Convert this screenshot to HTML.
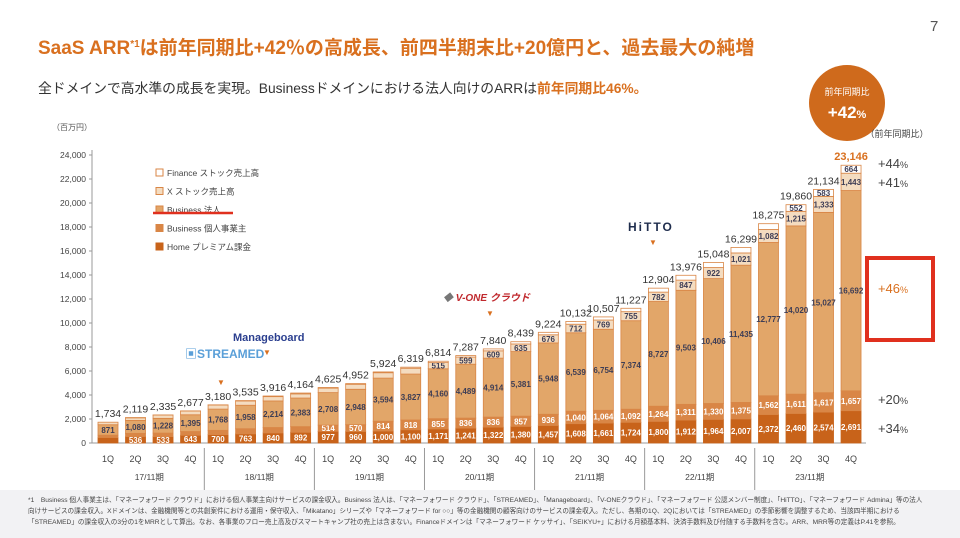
<!DOCTYPE html>
<html><head><meta charset="utf-8">
<style>
body{margin:0;width:960px;height:538px;overflow:hidden;background:#fff;font-family:"Liberation Sans","Noto Sans CJK JP",sans-serif;}
svg{display:block}
</style></head>
<body>
<svg id="c" width="960" height="538" viewBox="0 0 960 538" font-family="Liberation Sans, Noto Sans CJK JP, sans-serif">
<text x="930" y="31" font-size="15" fill="#555">7</text>
<text x="38" y="54" font-size="19" font-weight="bold" fill="#d9701f">SaaS ARR<tspan font-size="10" dy="-7">*1</tspan><tspan dy="7">は前年同期比+42％の高成長、前四半期末比+20億円と、過去最大の純増</tspan></text>
<text x="38" y="93" font-size="13.8" fill="#333">全ドメインで高水準の成長を実現。Businessドメインにおける法人向けのARRは<tspan font-weight="bold" fill="#d9701f">前年同期比46%。</tspan></text>
<text x="52" y="130" font-size="8" fill="#555">（百万円）</text>
<circle cx="847" cy="103" r="38" fill="#cf6a1c"/>
<text x="847" y="95" font-size="9" fill="#fff" text-anchor="middle">前年同期比</text>
<text x="847" y="118" font-size="17" font-weight="bold" fill="#fff" text-anchor="middle">+42<tspan font-size="11">%</tspan></text>
<text x="897" y="137" font-size="9" fill="#444" text-anchor="middle">（前年同期比）</text>
<text x="893" y="168" font-size="13" fill="#444" text-anchor="middle">+44<tspan font-size="9">%</tspan></text>
<text x="893" y="187" font-size="13" fill="#444" text-anchor="middle">+41<tspan font-size="9">%</tspan></text>
<rect x="867" y="258" width="66" height="82" fill="none" stroke="#e0301e" stroke-width="4"/>
<text x="893" y="293" font-size="13" fill="#d9701f" text-anchor="middle">+46<tspan font-size="9">%</tspan></text>
<text x="893" y="404" font-size="13" fill="#444" text-anchor="middle">+20<tspan font-size="9">%</tspan></text>
<text x="893" y="433" font-size="13" fill="#444" text-anchor="middle">+34<tspan font-size="9">%</tspan></text>
<g id="axis"></g>
<g id="bars"></g>
<g id="legend"></g>
<text x="185" y="358" font-size="12" font-weight="bold" fill="#5a9fd8">▣STREAMED</text>
<text x="217" y="385" font-size="8" fill="#d9701f">▼</text>
<text x="233" y="341" font-size="11" font-weight="bold" fill="#2b3f8f">Manageboard</text>
<text x="263" y="355" font-size="8" fill="#d9701f">▼</text>
<text x="443" y="301" font-size="10" font-weight="bold" font-style="italic" fill="#c0282d"><tspan fill="#777">◆</tspan> V-ONE クラウド</text>
<text x="486" y="316" font-size="8" fill="#d9701f">▼</text>
<text x="628" y="231" font-size="12" font-weight="bold" letter-spacing="2" fill="#1f2d4d">HiTTO</text>
<text x="649" y="245" font-size="8" fill="#d9701f">▼</text>
<rect x="0" y="490" width="960" height="48" fill="#f2f2f4"/>
<g font-size="6.6" fill="#444">
<text x="28" y="502">*1　Business 個人事業主は、「マネーフォワード クラウド」における個人事業主向けサービスの課金収入。Business 法人は、「マネーフォワード クラウド」、「STREAMED」、「Manageboard」、「V-ONEクラウド」、「マネーフォワード 公認メンバー制度」、「HiTTO」、「マネーフォワード Admina」等の法人</text>
<text x="28" y="513">向けサービスの課金収入。Xドメインは、金融機関等との共創案件における運用・保守収入、「Mikatano」シリーズや「マネーフォワード for ○○」等の金融機関の顧客向けのサービスの課金収入。ただし、各期の1Q、2Qにおいては「STREAMED」の季節影響を調整するため、当該四半期における</text>
<text x="28" y="524">「STREAMED」の課金収入の3分の1をMRRとして算出。なお、各事業のフロー売上高及びスマートキャンプ社の売上は含まない。Financeドメインは「マネーフォワード ケッサイ」、「SEIKYU+」における月額基本料、決済手数料及び付随する手数料を含む。ARR、MRR等の定義はP.41を参照。</text>
</g>
</svg>
<script>
const quarters=["1Q","2Q","3Q","4Q","1Q","2Q","3Q","4Q","1Q","2Q","3Q","4Q","1Q","2Q","3Q","4Q","1Q","2Q","3Q","4Q","1Q","2Q","3Q","4Q","1Q","2Q","3Q","4Q"];
const years=["17/11期","18/11期","19/11期","20/11期","21/11期","22/11期","23/11期"];
const home=[455,536,533,643,700,763,840,892,977,960,1000,1100,1171,1241,1322,1380,1457,1608,1661,1724,1800,1912,1964,2007,2372,2460,2574,2691];
const indiv=[197,267,294,314,357,425,450,472,514,570,814,818,855,836,836,857,936,1040,1064,1092,1264,1311,1330,1375,1562,1611,1617,1657];
const corp=[871,1080,1228,1395,1768,1958,2214,2383,2708,2948,3594,3827,4160,4489,4914,5381,5948,6539,6754,7374,8727,9503,10406,11435,12777,14020,15027,16692];
const xdom=[211,215,276,315,337,358,359,346,372,417,448,486,515,599,609,635,676,712,769,755,782,847,922,1021,1082,1215,1333,1443];
const finance=[0,21,4,10,18,31,53,71,54,57,68,88,113,122,159,186,207,233,259,282,331,404,426,460,482,552,583,664];
const totals=[1734,2119,2335,2677,3180,3535,3916,4164,4625,4952,5924,6319,6814,7287,7840,8439,9224,10132,10507,11227,12904,13976,15048,16299,18275,19860,21134,23146];
const yTicks=[0,2000,4000,6000,8000,10000,12000,14000,16000,18000,20000,22000,24000];

const NS="http://www.w3.org/2000/svg";
const y0=443,pxPer=288/24000;
const Y=v=>y0-v*pxPer;
const X=i=>108+i*27.52;
const bw=20;
function mk(tag,attrs,parent,txt){const e=document.createElementNS(NS,tag);for(const k in attrs)e.setAttribute(k,attrs[k]);if(txt!==undefined)e.textContent=txt;parent.appendChild(e);return e;}
const fmt=v=>v.toLocaleString('en-US');
const ax=document.getElementById('axis');
let l=mk('line',{x1:92,y1:150,x2:92,y2:443,stroke:'#999','stroke-width':1},ax);


l=mk('line',{x1:92,y1:443,x2:866,y2:443,stroke:'#999','stroke-width':1},ax);


yTicks.forEach(t=>{
  const tx=mk('text',{x:86,y:Y(t)+3,'font-size':8.5,fill:'#444','text-anchor':'end'},ax,fmt(t));
  
  
  mk('line',{x1:89,y1:Y(t),x2:92,y2:Y(t),stroke:'#999'},ax);
});
quarters.forEach((q,i)=>{
  const t=mk('text',{x:X(i),y:462,'font-size':9,fill:'#444','text-anchor':'middle'},ax,q);
  
  
});
years.forEach((yr,g)=>{
  const cx=(X(g*4)+X(g*4+3))/2;
  const t=mk('text',{x:cx,y:480,'font-size':8.5,fill:'#444','text-anchor':'middle'},ax,yr);
  
  
  if(g>0){const sx=X(g*4)-13.76;const s=mk('line',{x1:sx,y1:448,x2:sx,y2:490,stroke:'#999'},ax);
  
  }
});
const series=[
 {d:home,fill:'#c8631a',stroke:'#c8631a',tc:'#fff',n:'home'},
 {d:indiv,fill:'#d98646',stroke:'#d98646',tc:'#fff',n:'business-individual'},
 {d:corp,fill:'#e2a669',stroke:'#d98646',tc:'#3d3d55',n:'business-corporate'},
 {d:xdom,fill:'#f4dcc0',stroke:'#d98646',tc:'#3d3d55',n:'x-domain'},
 {d:finance,fill:'#fff',stroke:'#d98646',tc:'#3d3d55',n:'finance'}];
const bars=document.getElementById('bars');
totals.forEach((tot,i)=>{
  let acc=0;
  series.forEach(s=>{
    const v=s.d[i];if(v<=0)return;
    const yt=Y(acc+v),h=Y(acc)-yt;
    const r=mk('rect',{x:X(i)-bw/2,y:yt,width:bw,height:h,fill:s.fill,stroke:s.stroke,'stroke-width':0.8},bars);
    
    
    if(h>=6){const t=mk('text',{x:X(i),y:yt+h/2+3,'font-size':8,'font-weight':'bold',fill:s.tc,'text-anchor':'middle'},bars,fmt(v));
      
      }
    acc+=v;
  });
  const last=i===totals.length-1;
  const t=mk('text',{x:X(i),y:Y(tot)-5,'font-size':last?11:10.5,'font-weight':last?'bold':'normal',fill:last?'#d9701f':'#333','text-anchor':'middle'},bars,fmt(tot));
  
  
});
const lg=document.getElementById('legend');
const legendItems=[['Finance ストック売上高',4],['X ストック売上高',3],['Business 法人',2],['Business 個人事業主',1],['Home プレミアム課金',0]];
legendItems.forEach((it,k)=>{
  const y=173+k*18.5;const s=series[it[1]];
  const r=mk('rect',{x:156,y:y-4,width:7,height:7,fill:s.fill,stroke:s.stroke},lg);
  
  
  const t=mk('text',{x:167,y:y+3,'font-size':8.5,fill:'#444'},lg,it[0]);
  
  
});
const ul=mk('line',{x1:153,y1:213,x2:233,y2:213,stroke:'#e0301e','stroke-width':2.5},lg);


</script>
</body></html>
